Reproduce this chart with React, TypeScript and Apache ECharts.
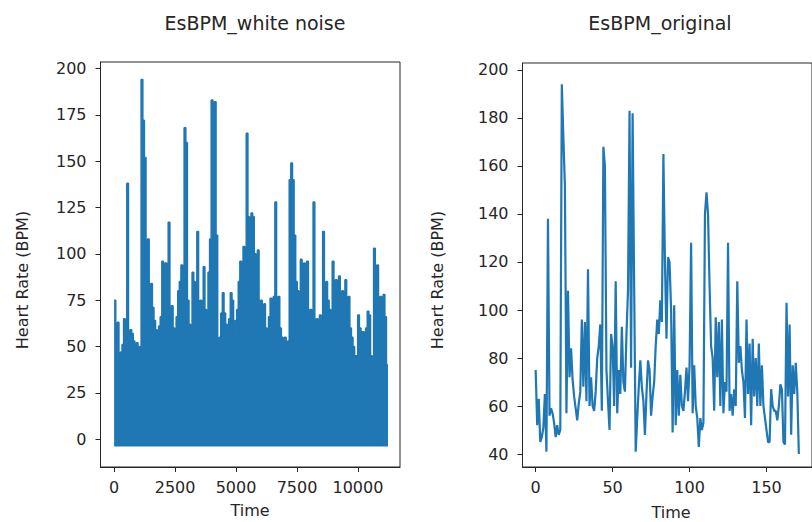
import React, { useEffect, useRef } from "react";
import * as echarts from "echarts";

// Original heart-rate series (BPM), one value per time step
const ORIGINAL_BPM = [
  75, 52, 63, 45, 47, 51, 65, 41, 138, 56,
  59, 57, 53, 47, 52, 48, 50, 194, 172, 152,
  57, 108, 72, 84, 71, 64, 59, 54, 61, 66,
  96, 68, 95, 62, 117, 60, 72, 60, 58, 66,
  80, 85, 94, 58, 168, 160, 75, 62, 50, 90,
  85, 60, 112, 57, 75, 65, 93, 70, 66, 90,
  108, 183, 76, 182, 110, 41, 55, 68, 79, 68,
  62, 48, 65, 79, 75, 56, 64, 70, 85, 96,
  90, 104, 95, 165, 120, 88, 122, 120, 100, 49,
  102, 52, 75, 56, 73, 60, 58, 66, 76, 62,
  77, 128, 57, 77, 60, 55, 43, 55, 50, 53,
  140, 149, 140, 110, 85, 80, 58, 97, 72, 95,
  60, 96, 57, 70, 66, 128, 58, 65, 56, 67,
  60, 112, 78, 85, 75, 70, 55, 96, 65, 86,
  52, 88, 64, 80, 60, 86, 60, 77, 60, 55,
  50, 45, 45, 67, 60, 58, 58, 54, 60, 69,
  67, 45, 44, 103, 64, 94, 48, 77, 65, 78,
  66, 40,
];

// White-noise version: each beat value is spread over this many samples,
// with the noisy samples dropping down to this floor.
const WHITE_NOISE_SAMPLES_PER_BEAT = 65.3;
const WHITE_NOISE_FLOOR = -4;

const LEFT_X_TICKS = [0, 2500, 5000, 7500, 10000];
const LEFT_Y_TICKS = [0, 25, 50, 75, 100, 125, 150, 175, 200];
const RIGHT_X_TICKS = [0, 50, 100, 150];
const RIGHT_Y_TICKS = [40, 60, 80, 100, 120, 140, 160, 180, 200];

const TITLES = ["EsBPM_white noise", "EsBPM_original"];
const X_NAME = "Time";
const Y_NAME = "Heart Rate (BPM)";

const BLUE = "#1f77b4";
const INK = "#262626";
const FONT = "DejaVu Sans";

export default function App() {
  const ref = useRef<HTMLDivElement>(null);

  useEffect(() => {
    if (!ref.current) return;
    const chart = echarts.init(ref.current, null, { renderer: "svg" });

    const noiseData: [number, number][] = ORIGINAL_BPM.map((v, i) => [
      i * WHITE_NOISE_SAMPLES_PER_BEAT,
      v,
    ]);
    noiseData.push([
      ORIGINAL_BPM.length * WHITE_NOISE_SAMPLES_PER_BEAT,
      ORIGINAL_BPM[ORIGINAL_BPM.length - 1],
    ]);
    const origData: [number, number][] = ORIGINAL_BPM.map((v, i) => [i, v]);

    const axisCommon = {
      type: "value" as const,
      splitLine: { show: false },
      axisLine: { show: true, onZero: false, lineStyle: { color: INK, width: 1 } },
      axisTick: { show: true, length: 5, lineStyle: { color: INK, width: 1 } },
    };
    const labelCommon = {
      color: INK,
      fontFamily: FONT,
      fontSize: 16,
      showMinLabel: true,
      showMaxLabel: true,
      hideOverlap: false,
      formatter: (v: number) => String(v),
    };

    const textStyle = (fontSize: number) => ({
      fill: INK,
      font: `${fontSize}px "${FONT}"`,
      textAlign: "center",
      textVerticalAlign: "middle",
    });

    chart.setOption({
      animation: false,
      backgroundColor: "#ffffff",
      grid: [
        {
          left: 100.5,
          top: 62,
          width: 299.5,
          height: 405,
          show: true,
          borderColor: INK,
          borderWidth: 1,
          backgroundColor: "transparent",
        },
        {
          left: 522.5,
          top: 63,
          width: 297,
          height: 404,
          show: true,
          borderColor: INK,
          borderWidth: 1,
          backgroundColor: "transparent",
        },
      ],
      xAxis: [
        {
          ...axisCommon,
          gridIndex: 0,
          min: -558,
          max: 11724,
          axisTick: { ...axisCommon.axisTick, customValues: LEFT_X_TICKS },
          axisLabel: { ...labelCommon, margin: 12, customValues: LEFT_X_TICKS },
        },
        {
          ...axisCommon,
          gridIndex: 1,
          min: -8.55,
          max: 179.55,
          axisTick: { ...axisCommon.axisTick, customValues: RIGHT_X_TICKS },
          axisLabel: { ...labelCommon, margin: 12, customValues: RIGHT_X_TICKS },
        },
      ],
      yAxis: [
        {
          ...axisCommon,
          gridIndex: 0,
          min: -15,
          max: 203.5,
          axisTick: { ...axisCommon.axisTick, customValues: LEFT_Y_TICKS },
          axisLabel: { ...labelCommon, margin: 14, customValues: LEFT_Y_TICKS },
        },
        {
          ...axisCommon,
          gridIndex: 1,
          min: 34.6,
          max: 202.9,
          axisTick: { ...axisCommon.axisTick, customValues: RIGHT_Y_TICKS },
          axisLabel: { ...labelCommon, margin: 14, customValues: RIGHT_Y_TICKS },
        },
      ],
      series: [
        {
          type: "line",
          xAxisIndex: 0,
          yAxisIndex: 0,
          data: noiseData,
          step: "end",
          showSymbol: false,
          symbol: "none",
          lineStyle: { color: BLUE, width: 1.6 },
          areaStyle: { color: BLUE, opacity: 1, origin: WHITE_NOISE_FLOOR },
          clip: true,
        },
        {
          type: "line",
          xAxisIndex: 1,
          yAxisIndex: 1,
          data: origData,
          showSymbol: false,
          symbol: "none",
          lineStyle: { color: BLUE, width: 2.2 },
          clip: true,
        },
      ],
      graphic: [
        { type: "text", x: 255, y: 23, style: { text: TITLES[0], ...textStyle(19) } },
        { type: "text", x: 660, y: 23, style: { text: TITLES[1], ...textStyle(19) } },
        { type: "text", x: 250, y: 510, style: { text: X_NAME, ...textStyle(16) } },
        { type: "text", x: 671, y: 512, style: { text: X_NAME, ...textStyle(16) } },
        {
          type: "text",
          x: 22,
          y: 280,
          rotation: Math.PI / 2,
          style: { text: Y_NAME, ...textStyle(16) },
        },
        {
          type: "text",
          x: 437,
          y: 280,
          rotation: Math.PI / 2,
          style: { text: Y_NAME, ...textStyle(16) },
        },
      ],
    });

    return () => chart.dispose();
  }, []);

  return (
    <div
      ref={ref}
      style={{ position: "fixed", left: 0, top: 0, width: 812, height: 522, overflow: "hidden" }}
    />
  );
}
